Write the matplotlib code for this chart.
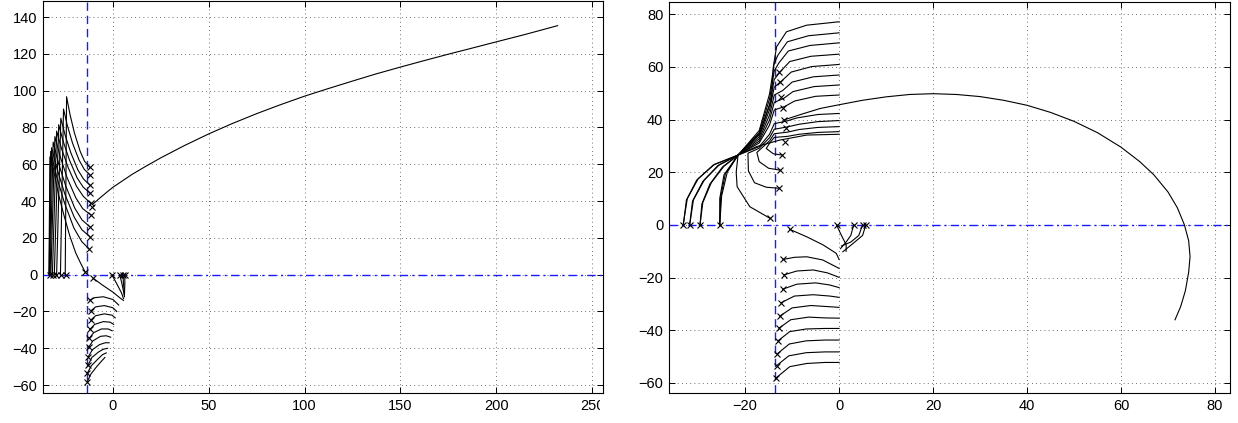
import matplotlib
matplotlib.use('Agg')
import matplotlib.pyplot as plt
from matplotlib.patches import Rectangle

# ---- left panel -------------------------------------------------------
left_upper = [
    [(-33.4, 0), (-32.9, 64), (-31, 57), (-28.5, 44), (-25.5, 32), (-22.5, 21), (-19.5, 12), (-17, 6.5), (-14.6, 1.6)],
    [(-33.3, 0), (-32.5, 67), (-29.5, 53.7), (-25.4, 39.3), (-20.4, 25.4), (-16.3, 18), (-12.3, 13.8)],
    [(-33.1, 0), (-32.0, 69), (-29.0, 56.9), (-25.1, 43.8), (-20.2, 31.2), (-16.2, 24.4), (-12.0, 20.6)],
    [(-32.8, 0), (-31.2, 72), (-28.4, 60.5), (-24.6, 48.1), (-19.9, 36.1), (-16.1, 29.7), (-12.0, 26)],
    [(-32.4, 0), (-30.3, 75), (-27.6, 64.4), (-24.0, 52.9), (-19.4, 41.8), (-15.8, 35.9), (-11.6, 32.5)],
    [(-31.6, 0), (-29.4, 78), (-26.8, 68.4), (-23.3, 58), (-19.0, 48), (-15.5, 42.6), (-11.6, 38.8)],
    [(-30.6, 0), (-28.3, 81.5), (-25.9, 72.2), (-22.7, 62.3), (-18.7, 52.6), (-15.5, 47.5), (-11.8, 44.2)],
    [(-29.4, 0), (-27.2, 85), (-25.0, 76), (-22.0, 66.3), (-18.3, 56.9), (-15.3, 51.9), (-12.0, 48.6)],
    [(-27.4, 0), (-25.8, 90), (-23.8, 81.1), (-21.1, 71.5), (-17.7, 62.3), (-15.0, 57.3), (-12.0, 54.1)],
    [(-24.9, 0), (-24.2, 96.7), (-22.4, 87), (-20.1, 77), (-17.1, 67), (-14.8, 61.6), (-12.0, 58.3)],
]
left_long = [(-10.3, 38.5), (-7, 41.5), (-3, 45), (0, 47.5), (5, 51), (10, 54.5), (17, 58.8), (25, 63.5),
             (37, 70), (50, 76.5), (62, 82), (75, 87.5), (87, 92.2), (100, 97), (112, 101), (125, 105.2),
             (137, 109), (150, 112.8), (162, 116.2), (175, 119.8), (187, 123), (200, 126.5), (215, 130.5),
             (232, 135.3)]
left_lower = [
    [(-12, -13.8), (-9.5, -12.5), (-5, -12), (0, -13.5), (3.0, -16.5)],
    [(-11.5, -19.6), (-9, -17.5), (-4.5, -16.8), (0, -18), (2.0, -20)],
    [(-11.6, -24.7), (-9, -22.3), (-4.5, -21.3), (-0.5, -22), (1.2, -23.5)],
    [(-12, -29.7), (-9.5, -27), (-5, -25.5), (-1.5, -25.8), (0.4, -27)],
    [(-12.4, -34.6), (-10, -31.5), (-6, -29.5), (-2.5, -29.5), (-0.4, -30.5)],
    [(-12.7, -39.5), (-10.5, -36), (-6.5, -33.5), (-3.5, -33.2), (-1.2, -34)],
    [(-12.9, -44.6), (-10.7, -40.8), (-7, -38), (-4, -37), (-2, -37)],
    [(-13, -49.1), (-11, -45), (-7.5, -42), (-5, -40.5), (-2.8, -40)],
    [(-13.4, -53.6), (-11.3, -49.5), (-8, -46), (-5.5, -43.5), (-3.5, -42.5)],
    [(-13.4, -58.2), (-11.5, -54), (-8.5, -50), (-6, -47), (-4.2, -45)],
]
left_small = [
    [(-10.3, -2), (-5, -6), (0, -9.5), (3.5, -12.5), (5.5, -14)],
    [(-0.6, 0), (2, -5), (4.5, -10), (5.5, -13)],
    [(3.5, 0), (4.5, -4), (5.5, -9), (6, -12)],
    [(5.2, 0), (5.5, -5), (6, -10)],
    [(6.2, 0), (6.2, -5), (6, -11)],
]
left_marks = [(-32.9, 0), (-31.3, 0), (-29.7, 0), (-27.1, 0), (-24.5, 0), (-14.6, 1.6), (-10.3, -2),
              (-0.6, 0), (3.5, 0), (5.2, 0), (6.2, 0),
              (-12, 58.3), (-12, 54.1), (-12, 48.6), (-11.8, 44.2), (-11.6, 38.8), (-10.8, 37),
              (-11.6, 32.5), (-12, 26), (-12, 20.6), (-12.3, 13.8),
              (-12, -13.8), (-11.5, -19.6), (-11.6, -24.7), (-12, -29.7), (-12.4, -34.6),
              (-12.7, -39.5), (-12.9, -44.6), (-13, -49.1), (-13.4, -53.6), (-13.4, -58.2)]

# ---- right panel ------------------------------------------------------
right_s = [
    [(-33.1, 0.6), (-32.5, 9.4), (-30.3, 17), (-26.8, 22.7), (-21.5, 26.5), (-16.9, 34.7), (-14.4, 47.4),
     (-14.0, 60), (-13.3, 67.6), (-11.2, 73.3), (-6.9, 75.8), (0, 77.1)],
    [(-33.2, 0), (-32.3, 10), (-30, 17.5), (-26.5, 23), (-21.5, 26.5), (-17, 35.8), (-14.8, 49.7),
     (-13.8, 61.3), (-13.0, 64.5), (-11, 69.5), (-6.5, 71.8), (0, 72.9)],
    [(-31.8, 0), (-31.2, 9), (-29, 16.5), (-25.8, 22.5), (-21.5, 26.5), (-17, 35.0), (-14.8, 47.8),
     (-13.8, 58.5), (-12.8, 61.5), (-10.8, 66), (-6.2, 68.1), (0, 69.1)],
    [(-31.8, 0), (-31.0, 9.5), (-28.7, 17), (-25.5, 22.8), (-21.5, 26.5), (-17, 34.2), (-14.8, 45.7),
     (-13.8, 55.2), (-12.6, 58), (-10.5, 62), (-6, 64), (0, 64.8)],
    [(-29.6, 0), (-29.2, 8), (-27.5, 15.5), (-24.8, 22), (-21.5, 26.5), (-17, 33.4), (-14.8, 43.7),
     (-13.8, 52.3), (-12.3, 54.5), (-10.2, 58), (-5.8, 60.1), (0, 60.9)],
    [(-29.6, 0), (-29.0, 8.5), (-27.2, 16), (-24.5, 22.3), (-21.5, 26.5), (-17, 32.6), (-14.8, 41.7),
     (-13.8, 49.3), (-12, 51), (-10, 54.2), (-5.5, 56.2), (0, 56.9)],
    [(-25.4, 0), (-25.4, 10), (-24.5, 19), (-21.5, 26.5), (-17, 31.8), (-14.8, 39.8),
     (-13.8, 46.5), (-11.8, 48), (-9.8, 50.6), (-5.3, 52.5), (0, 53.1)],
    [(-25.4, 0), (-25.2, 10.5), (-24.2, 19.5), (-21.5, 26.5), (-17, 31.1), (-14.8, 37.9),
     (-13.8, 43.6), (-11.5, 45), (-9.5, 47), (-5, 48.8), (0, 49.3)],
    [(-14.7, 2.5), (-19, 6.9), (-21.7, 14.5), (-21.9, 20), (-21.5, 26.5), (-17, 29.7), (-14.8, 34.4),
     (-13.8, 38.4), (-11, 39.5), (-9, 40.6), (-4.5, 41.9), (0, 42.3)],
    [(-12.7, 13.9), (-15.5, 14.3), (-18, 16), (-19.3, 20.5), (-19.4, 27.2), (-17, 29.1), (-14.8, 33.1),
     (-13.8, 36.3), (-11, 37.2), (-8.5, 38.2), (-4.5, 39.2), (0, 39.6)],
    [(-12.6, 20.8), (-15, 21.5), (-17, 24), (-17.5, 27.5), (-14.8, 31.9), (-13.8, 34.6), (-11, 35.2),
     (-8.5, 36.2), (-4.5, 37), (0, 37.3)],
    [(-12.1, 26.5), (-14, 27), (-15.5, 29), (-14.8, 31), (-13.8, 33.2), (-11, 33.6), (-8.5, 34.4),
     (-4.5, 35.1), (0, 35.4)],
    [(-25.4, 0), (-25.0, 11), (-23.8, 20), (-21.5, 26.5), (-17.6, 29.7), (-12.6, 32.2), (-6.9, 34.1), (0, 34.4)],
]
right_arc = [(-11.8, 39.8), (-8, 42), (-4, 44.2), (0, 45.6), (5, 47.3), (10, 48.6), (15, 49.5), (20, 49.8),
             (25, 49.5), (30, 48.7), (35, 47.3), (40, 45.4), (45, 42.7), (50, 39.3), (55, 35), (60, 29.5),
             (64, 24), (67, 19), (70, 12.5), (72, 6.5), (73.5, 0), (74.4, -6), (74.7, -12), (74.4, -18),
             (73.7, -25), (72.7, -31), (71.5, -36)]
right_lower = [
    [(-11.9, -13.1), (-9.5, -12.3), (-6.9, -12.1), (-3.5, -13.3), (0, -16.5)],
    [(-11.8, -19.0), (-9, -17.5), (-5.5, -17.1), (-2.5, -18.2), (0, -19.9)],
    [(-12.0, -24.4), (-9, -22.5), (-5, -22), (-2, -22.8), (0, -23.8)],
    [(-12.3, -29.5), (-9.5, -27), (-5.5, -26.5), (-2, -27), (0, -27.5)],
    [(-12.6, -34.6), (-10, -31.5), (-6, -30.6), (-2.5, -31), (0, -31.3)],
    [(-12.8, -39.2), (-10.3, -36), (-6.5, -35), (-3, -35.3), (0, -35.4)],
    [(-13.0, -44.0), (-10.5, -40.5), (-7, -39.5), (-3, -39.3), (0, -39.3)],
    [(-13.2, -49.0), (-10.6, -45.2), (-7, -44), (-3, -43.7), (0, -43.7)],
    [(-13.3, -53.4), (-10.7, -49.7), (-7, -48.5), (-3, -48.2), (0, -48.2)],
    [(-13.5, -58.2), (-10.5, -53.8), (-6.9, -52.6), (-3, -52.2), (0, -52.2)],
]
right_small = [
    [(-10.5, -1.7), (-6.9, -4.5), (-3.4, -7.6), (-0.6, -10.8), (0, -13.1)],
    [(-0.55, 0), (0.5, -4), (1.5, -7.5), (1.5, -10)],
    [(3.1, 0), (2.5, -4), (1.5, -6.5), (0.3, -9)],
    [(5.0, 0), (4.2, -4), (2.5, -6.5), (0.5, -8)],
    [(5.7, 0), (5.0, -4), (3, -7), (0.8, -10.2)],
]
right_marks = [(-33.2, 0), (-31.8, 0), (-29.6, 0), (-25.4, 0), (-14.7, 2.5), (-10.5, -1.7),
               (-0.55, 0), (3.1, 0), (5.0, 0), (5.7, 0),
               (-12.7, 58.1), (-12.6, 54.3), (-12.3, 48.6), (-11.9, 44.2), (-11.8, 39.8), (-11.2, 36.6),
               (-11.5, 31.5), (-12.1, 26.5), (-12.6, 20.8), (-12.7, 13.9),
               (-11.9, -13.1), (-11.8, -19.0), (-12.0, -24.4), (-12.3, -29.5), (-12.6, -34.6),
               (-12.8, -39.2), (-13.0, -44.0), (-13.2, -49.0), (-13.3, -53.4), (-13.5, -58.2)]

vline_x = -13.6
left_xticks = [0, 50, 100, 150, 200, 250]
left_yticks = [-60, -40, -20, 0, 20, 40, 60, 80, 100, 120, 140]
right_xticks = [-20, 0, 20, 40, 60, 80]
right_yticks = [-60, -40, -20, 0, 20, 40, 60, 80]


def draw(ax, groups, marks, xlim, ylim, xticks, yticks):
    ax.axvline(vline_x, color='#1a1aff', lw=1.0, ls=(0, (6, 3.5)))
    ax.axhline(0, color='#1a1aff', lw=1.0, ls=(0, (6, 3, 1.5, 3)))
    for group in groups:
        for c in group:
            xs = [p[0] for p in c]
            ys = [p[1] for p in c]
            ax.plot(xs, ys, color='k', lw=0.8)
    ax.plot([p[0] for p in marks], [p[1] for p in marks], 'kx', ms=5, mew=0.8)
    ax.set_xlim(xlim)
    ax.set_ylim(ylim)
    ax.set_xticks(xticks)
    ax.set_yticks(yticks)
    ax.grid(True, color='0.25', lw=0.6, ls=(0, (1, 4)))
    ax.tick_params(direction='in', top=True, right=True, length=4, width=0.7,
                   labelsize=10.5, pad=4)
    for s in ax.spines.values():
        s.set_linewidth(0.8)


plt.rcParams['font.family'] = ['Liberation Sans', 'DejaVu Sans']
fig = plt.figure(figsize=(12.38, 4.23), dpi=100)
ax1 = fig.add_axes([43 / 1238, 1 - 393 / 423, 560 / 1238, 392 / 423])
ax2 = fig.add_axes([669 / 1238, 1 - 393 / 423, 561 / 1238, 391 / 423])

draw(ax1, [left_upper, [left_long], left_lower, left_small], left_marks,
     (-36.5, 255.7), (-64.3, 148.7), left_xticks, left_yticks)
draw(ax2, [right_s, [right_arc], right_lower, right_small], right_marks,
     (-36.2, 83.2), (-63.8, 84.6), right_xticks, right_yticks)

# the "250" label is cut at the right frame in the original
fig.add_artist(Rectangle((600 / 1238, 0), 24 / 1238, 27 / 423, transform=fig.transFigure,
                         facecolor='white', edgecolor='none', zorder=10))

fig.savefig('out.png', dpi=100)
